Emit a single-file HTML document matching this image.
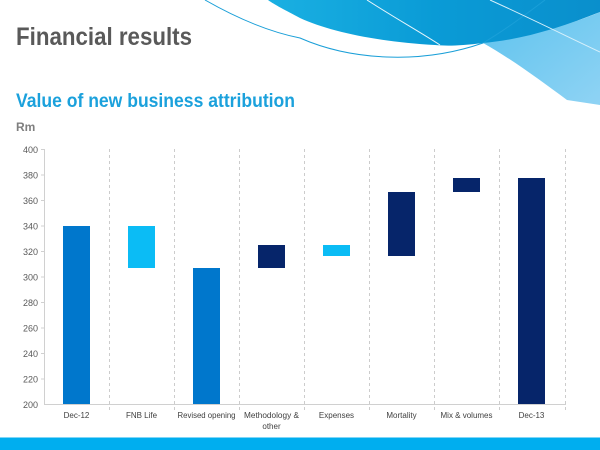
<!DOCTYPE html>
<html><head><meta charset="utf-8"><style>
html,body{margin:0;padding:0;background:#fff;}
svg{display:block;font-family:"Liberation Sans",sans-serif;}
</style></head><body>
<svg width="600" height="450" viewBox="0 0 600 450" xmlns="http://www.w3.org/2000/svg">
<defs>
<linearGradient id="dk" x1="0" y1="0" x2="1" y2="0">
<stop offset="0" stop-color="#1ab0e2"/><stop offset="0.5" stop-color="#0a9bd6"/><stop offset="1" stop-color="#0a8fcc"/>
</linearGradient>
<linearGradient id="lt" x1="0" y1="0" x2="1" y2="1">
<stop offset="0" stop-color="#5fc3ee"/><stop offset="1" stop-color="#8fd3f4"/>
</linearGradient>
</defs>
<!-- light blue region -->
<path d="M483,43 C530,35 570,25 600,12 L600,105 L567,100 C540,80 510,58 483,43 Z" fill="url(#lt)"/>
<!-- dark wave -->
<path d="M268,0 L600,0 L600,12 C560,28 520,40 483,43 C460,46 445,46 435,45 C380,42 330,32 300,18 C285,10 275,5 268,0 Z" fill="url(#dk)"/>
<!-- thin lines -->
<path d="M205,0 C240,20 270,32 300,38 C350,60 420,65 483,43 C505,30 525,15 545,0" fill="none" stroke="#1a9fd8" stroke-width="1"/>
<path d="M367,0 C395,18 420,32 440,45" fill="none" stroke="#e8f6fc" stroke-width="1"/>
<path d="M490,0 C530,18 570,38 600,52" fill="none" stroke="#d8f0fb" stroke-width="1"/>

<text x="16" y="45" font-size="25" font-weight="bold" fill="#595959" textLength="176" lengthAdjust="spacingAndGlyphs">Financial results</text>
<text x="16" y="107" font-size="19" font-weight="bold" fill="#1ba1dc" textLength="279" lengthAdjust="spacingAndGlyphs">Value of new business attribution</text>
<text x="16" y="131" font-size="12" font-weight="bold" fill="#7f7f7f">Rm</text>

<!-- axes -->
<g stroke="#d0d0d0" stroke-width="1">
<line x1="44.5" y1="149" x2="44.5" y2="404"/>
<line x1="44" y1="404.5" x2="566" y2="404.5"/>
</g>
<g stroke="#cccccc" stroke-dasharray="3,3">
<line x1="109.5" y1="149" x2="109.5" y2="410"/>
<line x1="174.5" y1="149" x2="174.5" y2="410"/>
<line x1="239.5" y1="149" x2="239.5" y2="410"/>
<line x1="304.5" y1="149" x2="304.5" y2="410"/>
<line x1="369.5" y1="149" x2="369.5" y2="410"/>
<line x1="434.5" y1="149" x2="434.5" y2="410"/>
<line x1="499.5" y1="149" x2="499.5" y2="410"/>
<line x1="565.5" y1="149" x2="565.5" y2="410"/>
</g>
<g font-size="9" fill="#595959" text-anchor="end">
<text x="38" y="153">400</text>
<text x="38" y="178.5">380</text>
<text x="38" y="204">360</text>
<text x="38" y="229.5">340</text>
<text x="38" y="255">320</text>
<text x="38" y="280.5">300</text>
<text x="38" y="306">280</text>
<text x="38" y="331.5">260</text>
<text x="38" y="357">240</text>
<text x="38" y="382.5">220</text>
<text x="38" y="408">200</text>
</g>
<g stroke="#d0d0d0">
<line x1="41" y1="149.5" x2="44" y2="149.5"/><line x1="41" y1="175" x2="44" y2="175"/>
<line x1="41" y1="200.5" x2="44" y2="200.5"/><line x1="41" y1="226" x2="44" y2="226"/>
<line x1="41" y1="251.5" x2="44" y2="251.5"/><line x1="41" y1="277" x2="44" y2="277"/>
<line x1="41" y1="302.5" x2="44" y2="302.5"/><line x1="41" y1="328" x2="44" y2="328"/>
<line x1="41" y1="353.5" x2="44" y2="353.5"/><line x1="41" y1="379" x2="44" y2="379"/>
</g>
<!-- bars -->
<rect x="63" y="226" width="27" height="178" fill="#0077cc"/>
<rect x="128" y="226" width="27" height="42" fill="#0bbcf5"/>
<rect x="193" y="268" width="27" height="136" fill="#0077cc"/>
<rect x="258" y="245" width="27" height="23" fill="#06256a"/>
<rect x="323" y="245" width="27" height="11" fill="#0bbcf5"/>
<rect x="388" y="192" width="27" height="64" fill="#06256a"/>
<rect x="453" y="178" width="27" height="14" fill="#06256a"/>
<rect x="518" y="178" width="27" height="226" fill="#06256a"/>

<g font-size="8" fill="#404040" text-anchor="middle">
<text x="76.5" y="418">Dec-12</text>
<text x="141.5" y="418">FNB Life</text>
<text x="206.5" y="418" textLength="58" lengthAdjust="spacingAndGlyphs">Revised opening</text>
<text x="271.5" y="418" textLength="55" lengthAdjust="spacingAndGlyphs">Methodology &amp;</text>
<text x="271.5" y="429">other</text>
<text x="336.5" y="418">Expenses</text>
<text x="401.5" y="418">Mortality</text>
<text x="466.5" y="418" textLength="52" lengthAdjust="spacingAndGlyphs">Mix &amp; volumes</text>
<text x="531.5" y="418">Dec-13</text>
</g>
<rect x="0" y="437" width="600" height="13" fill="#00aeef"/>
<line x1="0" y1="437.5" x2="600" y2="437.5" stroke="#7fd6f7"/>
</svg>
</body></html>
